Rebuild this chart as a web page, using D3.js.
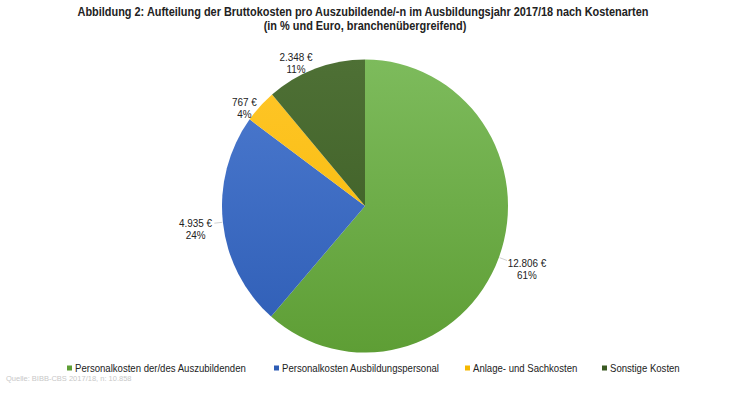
<!DOCTYPE html>
<html>
<head>
<meta charset="utf-8">
<script src="https://cdn.jsdelivr.net/npm/d3@7"></script>
<style>
  body { margin: 0; background: #fff; }
  svg text { font-family: "Liberation Sans", Arial, sans-serif; fill: #222; }
</style>
</head>
<body>
<div class="pie-chart-container"></div>
<script>
const categories = ["Personalkosten der/des Auszubildenden", "Personalkosten Ausbildungspersonal", "Anlage- und Sachkosten", "Sonstige Kosten"];
const euroValues = [12806, 4935, 767, 2348];
const euroLabels = ["12.806 €", "4.935 €", "767 €", "2.348 €"];
const pctLabels = ["61%", "24%", "4%", "11%"];
const colorsTop = ["#7dbb5c", "#4d7bd0", "#ffc62a", "#4e7035"];
const colorsBottom = ["#5e9e35", "#2e5db5", "#f5b800", "#3a5a22"];

const svg_width = 730;
const svg_height = 399;
const cx = 365, cy = 206;
const radius = 143;
const yStretch = 1.025;

const svg = d3.select(".pie-chart-container").append("svg")
  .attr("width", svg_width).attr("height", svg_height);

// squeeze text horizontally (the reference font is narrow)
function condense(sel, factor) {
  sel.each(function() {
    const w = this.getComputedTextLength();
    d3.select(this).attr("textLength", w * factor).attr("lengthAdjust", "spacingAndGlyphs");
  });
}

// gradients for the slices
const defs = svg.append("defs");
categories.forEach((c, i) => {
  const g = defs.append("linearGradient").attr("id", `grad${i}`)
    .attr("gradientUnits", "userSpaceOnUse")
    .attr("x1", 0).attr("y1", -radius).attr("x2", 0).attr("y2", radius);
  g.append("stop").attr("offset", "0%").attr("stop-color", colorsTop[i]);
  g.append("stop").attr("offset", "100%").attr("stop-color", colorsBottom[i]);
});

// title
const header = svg.append("g").attr("class", "pie-header");
header.append("text").attr("x", 363).attr("y", 16).attr("text-anchor", "middle")
  .style("font-size", "12px").style("font-weight", "bold")
  .text("Abbildung 2: Aufteilung der Bruttokosten pro Auszubildende/-n im Ausbildungsjahr 2017/18 nach Kostenarten");
header.append("text").attr("x", 365).attr("y", 30).attr("text-anchor", "middle")
  .style("font-size", "12px").style("font-weight", "bold")
  .text("(in %  und Euro, branchenübergreifend)");
condense(header.selectAll("text"), 0.91);

const pieData = categories.map((c, i) => ({ name: c, val: euroValues[i], i }));
const pie = d3.pie().value(d => d.val).sort(null);
const arc = d3.arc().innerRadius(0).outerRadius(radius);
const arcs = pie(pieData);

const pieG = svg.append("g")
  .attr("transform", `translate(${cx},${cy}) scale(1,${yStretch})`);

pieG.selectAll(".slice")
  .data(arcs)
  .enter()
  .append("path")
  .attr("class", "slice")
  .attr("d", arc)
  .style("fill", d => `url(#grad${d.data.i})`);

// labels outside the pie
const labelArc = d3.arc().innerRadius(radius * 1.15).outerRadius(radius * 1.15);
const lineInner = d3.arc().innerRadius(radius * 1.005).outerRadius(radius * 1.005);
const lineOuter = d3.arc().innerRadius(radius * 1.06).outerRadius(radius * 1.06);
const labelOffsets = [[8, 4], [-6, 4], [0, 17], [-12, 15]];

const labels = svg.append("g").attr("class", "labels")
  .attr("transform", `translate(${cx},${cy})`);

arcs.forEach((d, i) => {
  const p = labelArc.centroid(d);
  const x = p[0] + labelOffsets[i][0];
  const y = p[1] * yStretch + labelOffsets[i][1];
  if (i === 0 || i === 1) {
    const a = lineInner.centroid(d), b = lineOuter.centroid(d);
    labels.append("line")
      .attr("x1", a[0]).attr("y1", a[1] * yStretch)
      .attr("x2", b[0]).attr("y2", b[1] * yStretch)
      .style("stroke", "#c4c4c4").style("stroke-width", 0.8);
  }
  labels.append("text").attr("class", "lbl").attr("text-anchor", "middle")
    .attr("x", x).attr("y", y - 2).style("font-size", "11px").text(euroLabels[i]);
  labels.append("text").attr("class", "lbl").attr("text-anchor", "middle")
    .attr("x", x).attr("y", y + 10).style("font-size", "11px").text(pctLabels[i]);
});
condense(labels.selectAll(".lbl"), 0.9);

// legend
const legendX = [67, 274, 465, 602];
const legend = svg.append("g").attr("class", "legend");
categories.forEach((c, i) => {
  const lg = legend.append("g").attr("transform", `translate(${legendX[i]},372)`);
  lg.append("rect").attr("x", 0).attr("y", -6.5).attr("width", 5).attr("height", 5)
    .style("fill", colorsBottom[i]);
  lg.append("text").attr("x", 8).attr("y", 0).style("font-size", "11px").text(c);
});
condense(legend.selectAll("text"), 0.87);

svg.append("text").attr("x", 6).attr("y", 381)
  .style("font-size", "7.5px").style("fill", "#c8c8c8")
  .text("Quelle: BIBB-CBS 2017/18, n: 10.858");
</script>
</body>
</html>
